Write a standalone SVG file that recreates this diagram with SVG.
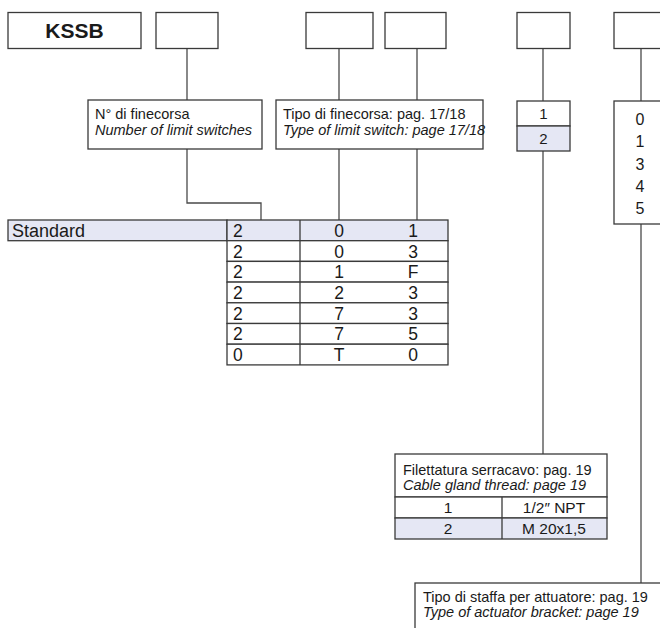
<svg xmlns="http://www.w3.org/2000/svg" width="660" height="628" viewBox="0 0 660 628">
<style>
  .bx{fill:#fff;stroke:#3a3a3a;stroke-width:1.3}
  .hl{fill:#e5e7f4;stroke:#3a3a3a;stroke-width:1.3}
  .ln{fill:none;stroke:#4a4a4a;stroke-width:1.3}
  text{font-family:"Liberation Sans",Arial,sans-serif;fill:#1a1a1a}
  .lb{font-size:14.5px}
  .it{font-style:italic}
  .tb{font-size:17.5px}
  .c{text-anchor:middle}
</style>
<rect width="660" height="628" fill="#fff"/>
<g id="connectors">
  <path class="ln" d="M187 49V100M339 49V100M417 49V100M543 49V101M641 49V101"/>
  <path class="ln" d="M187 149V203H261V220"/>
  <path class="ln" d="M339 149V220M417 149V220"/>
  <path class="ln" d="M543 151V454"/>
  <path class="ln" d="M641 224V583"/>
</g>
<g id="kssb">
  <rect class="bx" x="8" y="12.5" width="133" height="36"/>
  <text x="74.5" y="38" class="c" style="font-size:21px;font-weight:bold">KSSB</text>
</g>
<g id="slot1"><rect class="bx" x="156" y="12.5" width="62" height="36"/></g>
<g id="slot2"><rect class="bx" x="306" y="12.5" width="67" height="36"/></g>
<g id="slot3"><rect class="bx" x="385" y="12.5" width="61" height="36"/></g>
<g id="slot4"><rect class="bx" x="517" y="12.5" width="53" height="36"/></g>
<g id="slot5"><rect class="bx" x="614" y="12.5" width="62" height="36"/></g>
<g id="num-switches">
  <rect class="bx" x="88" y="100" width="174" height="49"/>
  <text class="lb" x="95" y="119">N° di finecorsa</text>
  <text class="lb it" x="95" y="134.5">Number of limit switches</text>
</g>
<g id="type-switch">
  <rect class="bx" x="276" y="100" width="207" height="49"/>
  <text class="lb" x="283" y="119">Tipo di finecorsa: pag. 17/18</text>
  <text class="lb it" x="283" y="134.5">Type of limit switch: page 17/18</text>
</g>
<g id="gland-options">
  <rect class="bx" x="517" y="101" width="53" height="25"/>
  <rect class="hl" x="517" y="126" width="53" height="25"/>
  <text class="c" x="543.5" y="119" style="font-size:15px">1</text>
  <text class="c" x="543.5" y="144" style="font-size:15px">2</text>
</g>
<g id="bracket-options">
  <rect class="bx" x="614" y="101" width="62" height="123"/>
  <text class="c" x="640" y="125" style="font-size:16px">0</text>
  <text class="c" x="640" y="147" style="font-size:16px">1</text>
  <text class="c" x="640" y="169.5" style="font-size:16px">3</text>
  <text class="c" x="640" y="191.5" style="font-size:16px">4</text>
  <text class="c" x="640" y="213.5" style="font-size:16px">5</text>
</g>
<g id="table">
  <rect class="hl" x="8" y="220" width="219" height="20.7"/>
  <text x="12" y="236.5" style="font-size:18px">Standard</text>
  <rect class="hl" x="227" y="220" width="221" height="20.7"/>
  <rect class="bx" x="227" y="240.7" width="221" height="20.7"/>
  <rect class="bx" x="227" y="261.4" width="221" height="20.7"/>
  <rect class="bx" x="227" y="282.1" width="221" height="20.7"/>
  <rect class="bx" x="227" y="302.8" width="221" height="20.7"/>
  <rect class="bx" x="227" y="323.5" width="221" height="20.7"/>
  <rect class="bx" x="227" y="344.2" width="221" height="20.7"/>
  <path class="ln" d="M300 220V364.9" style="stroke:#3a3a3a"/>
  <g class="tb">
    <text x="233" y="236.8">2</text><text class="c" x="339" y="236.8">0</text><text class="c" x="413" y="236.8">1</text>
    <text x="233" y="257.5">2</text><text class="c" x="339" y="257.5">0</text><text class="c" x="413" y="257.5">3</text>
    <text x="233" y="278.2">2</text><text class="c" x="339" y="278.2">1</text><text class="c" x="413" y="278.2">F</text>
    <text x="233" y="298.9">2</text><text class="c" x="339" y="298.9">2</text><text class="c" x="413" y="298.9">3</text>
    <text x="233" y="319.6">2</text><text class="c" x="339" y="319.6">7</text><text class="c" x="413" y="319.6">3</text>
    <text x="233" y="340.3">2</text><text class="c" x="339" y="340.3">7</text><text class="c" x="413" y="340.3">5</text>
    <text x="233" y="361">0</text><text class="c" x="339" y="361">T</text><text class="c" x="413" y="361">0</text>
  </g>
</g>
<g id="cable-gland">
  <rect class="bx" x="395" y="454" width="212" height="43"/>
  <text class="lb" x="403" y="475">Filettatura serracavo: pag. 19</text>
  <text class="lb it" x="403" y="489.5">Cable gland thread: page 19</text>
  <rect class="bx" x="395" y="497" width="212" height="21"/>
  <rect class="hl" x="395" y="518" width="212" height="21"/>
  <path class="ln" d="M502 497V539" style="stroke:#3a3a3a"/>
  <text class="c" x="448" y="513" style="font-size:15.5px">1</text>
  <text class="c" x="554" y="513" style="font-size:15.5px">1/2″ NPT</text>
  <text class="c" x="448" y="534" style="font-size:15.5px">2</text>
  <text class="c" x="554" y="534" style="font-size:15.5px">M 20x1,5</text>
</g>
<g id="bracket-type">
  <rect class="bx" x="415" y="583" width="260" height="60"/>
  <text class="lb" x="423" y="601.5">Tipo di staffa per attuatore: pag. 19</text>
  <text class="lb it" x="423" y="616.5">Type of actuator bracket: page 19</text>
</g>
</svg>
